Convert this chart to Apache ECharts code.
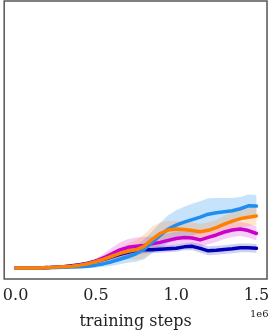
<!DOCTYPE html>
<html>
<head>
<meta charset="utf-8">
<script src="https://cdn.jsdelivr.net/npm/echarts@6/dist/echarts.min.js"></script>
<style>
html,body{margin:0;padding:0;background:#fff;}
#c{width:272px;height:335px;}
</style>
</head>
<body>
<div id="c"></div>
<script>
// training steps (x 1e6)
const steps = [0,0.05,0.1,0.15,0.2,0.25,0.3,0.35,0.4,0.45,0.5,0.55,0.6,0.65,0.7,0.75,0.8,0.85,0.9,0.95,1.0,1.05,1.1,1.15,1.2,1.25,1.3,1.35,1.4,1.45,1.5];
const xTicks = [0, 0.5, 1.0, 1.5];

// mean curves (arbitrary units, 0 = start)
const navyMean = [0,0,0,0.2,0.5,1,1.5,2.5,3.5,5,7,9,11.5,14,16,18,18.5,18.5,19,19.5,20,21.5,22,20,17.5,18,18.7,19.5,20.5,20.5,20];
const blueMean = [0,0,0,0.2,0.4,0.7,1,1.2,1.5,2,3,4.5,6.5,9,11.5,14.5,19,26,33,39.5,43.5,46.5,49,51.5,54.5,56,57,58,60,63,62.7];
const orangeMean = [0,0,0,0.2,0.5,1,1.5,2,3,4.5,6.5,9,12,15,17,18.5,22,29,35,38.5,39.5,39,38,36.8,38.2,41,44.5,47.5,50,51.5,52.7];
const magentaMean = [0,0,0,0.2,0.5,1,1.5,2,3,4.5,7,10.5,14.5,18.5,21,22,23,24.5,26,28,30,31,30.5,28.5,31,33.5,36.5,38.5,39.5,38,35];

// spread (half-width of shaded band)
const navySpread = [0.5,0.5,0.5,0.5,0.6,0.8,1,1.2,1.5,1.8,2.2,2.6,3,3.3,3.5,3.5,3.5,3.5,3.5,3.5,3.5,3.5,4,4.5,4.5,4.5,4.5,4.5,4.5,4.5,4.5];
const blueSpread = [0.5,0.5,0.5,0.5,0.6,0.8,1,1.3,1.6,2,2.5,3.2,4,5,6,8,10,11,12.5,14,15,15.5,16,16,16,15,14,13,12,11.5,11];
const orangeSpread = [0.5,0.5,0.5,0.5,0.6,0.8,1,1.3,1.6,2,2.8,4,5,6,8,10,12,13,11,9,8,8,8,8,8,8,8.5,9,9,9,9];
const magentaSpread = [0.5,0.5,0.5,0.5,0.6,0.8,1,1.3,1.6,2,2.8,4,6,7.5,8.5,9,8.5,7.5,7,7,7,7,7,7,7,7,7,7,7,7,7];

const runs = [
  {name:'navy', mean:navyMean, spread:navySpread, color:'#0000b4', band:'rgba(40,40,200,0.22)'},
  {name:'magenta', mean:magentaMean, spread:magentaSpread, color:'#cc00cc', band:'rgba(215,60,215,0.25)'},
  {name:'blue', mean:blueMean, spread:blueSpread, color:'#1e8ef0', band:'rgba(30,140,240,0.25)'},
  {name:'orange', mean:orangeMean, spread:orangeSpread, color:'#ff8000', band:'rgba(255,150,60,0.25)'}
];

const series = [];
runs.forEach(r => {
  series.push({
    type:'custom', silent:true, z:1,
    data:[[0]],
    renderItem:function(params, api){
      const up = [], lo = [];
      for (let i=0;i<steps.length;i++){
        up.push(api.coord([steps[i], r.mean[i]+r.spread[i]]));
        lo.push(api.coord([steps[i], r.mean[i]-r.spread[i]]));
      }
      return {type:'polygon', shape:{points: up.concat(lo.reverse())}, style:{fill:r.band, stroke:null}};
    }
  });
});
runs.forEach((r,k) => {
  series.push({
    type:'line', name:r.name, symbol:'none', z:2+k,
    lineStyle:{color:r.color, width:3.5, join:'round', cap:'round'},
    data: steps.map((s,i)=>[s, r.mean[i]])
  });
});

const chart = echarts.init(document.getElementById('c'), null, {renderer:'canvas'});
chart.setOption({
  animation:false,
  grid:{left:0.5, right:2, top:1, bottom:54, show:true, borderColor:'#555', borderWidth:1.5, backgroundColor:'#fff'},
  xAxis:{
    type:'value', min:-0.071, max:1.566,
    axisLine:{show:false}, axisTick:{show:false}, splitLine:{show:false},
    axisLabel:{customValues:xTicks, formatter:v=>v.toFixed(1), fontFamily:'DejaVu Serif', fontSize:16, color:'#222', margin:9},
    name:'training steps', nameLocation:'middle', nameGap:35,
    nameTextStyle:{fontFamily:'DejaVu Serif', fontSize:16, color:'#222'}
  },
  yAxis:{type:'value', min:-11, max:270, show:false, splitLine:{show:false}},
  graphic:[{type:'text', left:250, top:309, style:{text:'1e6', font:'10px "DejaVu Serif"', fill:'#222'}}],
  series:series
});
</script>
</body>
</html>
